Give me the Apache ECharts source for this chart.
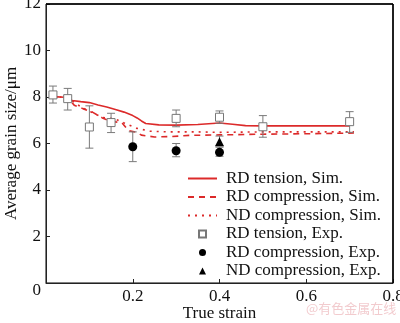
<!DOCTYPE html>
<html>
<head>
<meta charset="utf-8">
<script src="https://cdn.jsdelivr.net/npm/echarts@6/dist/echarts.min.js"></script>
<style>html,body{margin:0;padding:0;background:#fff;}#c{width:400px;height:323px;}</style>
</head>
<body>
<div id="c"></div>
<script>
// ---- data ----
var seriesNames = ['RD tension, Sim.', 'RD compression, Sim.', 'ND compression, Sim.',
                   'RD tension, Exp.', 'RD compression, Exp.', 'ND compression, Exp.'];
var xTicks = [0, 0.2, 0.4, 0.6, 0.8];
var yTicks = [0, 2, 4, 6, 8, 10, 12];

var rdTensionSim = [[0.015,8.02],[0.05,7.98],[0.06,7.85],[0.08,7.8],[0.1,7.76],[0.12,7.66],[0.14,7.57],[0.16,7.46],[0.18,7.35],[0.2,7.2],[0.21,7.1],[0.22,6.97],[0.23,6.86],[0.26,6.8],[0.3,6.79],[0.35,6.82],[0.4,6.88],[0.43,6.83],[0.46,6.77],[0.5,6.76],[0.6,6.76],[0.7,6.76]];
var rdCompSim = [[0.015,8.02],[0.05,7.98],[0.065,7.65],[0.085,7.5],[0.107,7.35],[0.13,7.1],[0.15,6.95],[0.175,6.9],[0.19,6.55],[0.21,6.48],[0.22,6.36],[0.25,6.28],[0.29,6.3],[0.33,6.35],[0.4,6.37],[0.5,6.4],[0.6,6.42],[0.71,6.45]];
var ndCompSim = [[0.015,8.02],[0.05,7.98],[0.07,7.7],[0.09,7.48],[0.11,7.3],[0.13,7.12],[0.16,7.05],[0.19,6.8],[0.21,6.65],[0.24,6.53],[0.28,6.5],[0.35,6.5],[0.4,6.48],[0.5,6.5],[0.6,6.5],[0.71,6.5]];

var rdTensionExpX = [0.016, 0.05, 0.1, 0.15, 0.3, 0.4, 0.5, 0.7];
var rdTensionExpY = [8.09, 7.93, 6.71, 6.9, 7.08, 7.13, 6.72, 6.94];
var rdTensionExpLo = [7.74, 7.44, 5.8, 6.47, 6.72, 6.87, 6.27, 6.48];
var rdTensionExpHi = [8.47, 8.37, 7.62, 7.3, 7.44, 7.4, 7.2, 7.37];

var rdCompExpX = [0.2, 0.3, 0.4];
var rdCompExpY = [5.86, 5.69, 5.62];
var rdCompExpLo = [5.22, 5.43, 5.45];
var rdCompExpHi = [6.5, 6.0, 5.84];

var ndCompExpX = [0.4];
var ndCompExpY = [6.08];
var ndCompExpLo = [5.9];
var ndCompExpHi = [6.32];

// ---- build ----
function pts(xs, ys){ return xs.map(function(x,i){ return [x, ys[i]]; }); }
function errs(xs, lo, hi){ return xs.map(function(x,i){ return [x, lo[i], hi[i]]; }); }

var RED = '#dc2a2a';
var FONT = 'Liberation Serif';
var X_MIN = xTicks[0], X_MAX = xTicks[xTicks.length-1];
var Y_MIN = yTicks[0], Y_MAX = yTicks[yTicks.length-1];

function errRender(params, api){
  var x = api.value(0);
  var p1 = api.coord([x, api.value(2)]);
  var p2 = api.coord([x, api.value(1)]);
  var w = 4;
  var st = {stroke: '#7a7a7a', lineWidth: 1};
  return {type:'group', children:[
    {type:'line', shape:{x1:p1[0], y1:p1[1], x2:p2[0], y2:p2[1]}, style:st},
    {type:'line', shape:{x1:p1[0]-w, y1:p1[1], x2:p1[0]+w, y2:p1[1]}, style:st},
    {type:'line', shape:{x1:p2[0]-w, y1:p2[1], x2:p2[0]+w, y2:p2[1]}, style:st}
  ]};
}

// plot frame (top and right edges) drawn through the axis scales
function frameRender(params, api){
  var tl = api.coord([api.value(0), api.value(3)]);
  var tr = api.coord([api.value(1), api.value(3)]);
  var br = api.coord([api.value(1), api.value(2)]);
  var st = {stroke: '#000', lineWidth: 1.5, fill: null};
  return {type:'group', children:[
    {type:'line', shape:{x1:tl[0], y1:tl[1], x2:tr[0], y2:tr[1]}, style: st},
    {type:'line', shape:{x1:tr[0], y1:tr[1], x2:br[0], y2:br[1]}, style: st}
  ]};
}

var ICON_SQ = 'path://M0,0H8V8H0Z';
var ICON_CI = 'path://M4,0A4,4,0,1,1,4,8A4,4,0,1,1,4,0Z';
var ICON_TR = 'path://M4,0L8,8L0,8Z';

var chart = echarts.init(document.getElementById('c'), null, {renderer:'canvas'});
chart.setOption({
  animation: false,
  backgroundColor: '#fff',
  grid: {left: 46, right: 7, top: 4, bottom: 40, show: true,
         backgroundColor: 'rgba(0,0,0,0)', borderColor: '#000', borderWidth: 1,
         containLabel: false, outerBoundsMode: 'none'},
  xAxis: {
    type: 'value', min: X_MIN, max: X_MAX, interval: 0.2,
    name: 'True strain', nameLocation: 'middle', nameGap: 22, nameMoveOverlap: false,
    nameTextStyle: {fontFamily: FONT, fontSize: 17, color: '#111'},
    axisLine: {onZero: false, lineStyle: {color: '#222', width: 1}},
    axisTick: {inside: true, length: 4, lineStyle: {color: '#222'}},
    axisLabel: {showMinLabel: false, fontFamily: FONT, fontSize: 17, color: '#111', margin: 5,
      formatter: function(v){ return String(Math.round(v*10)/10); }},
    splitLine: {show: false}
  },
  yAxis: {
    type: 'value', min: Y_MIN, max: Y_MAX, interval: 2,
    name: 'Average grain size/μm', nameLocation: 'middle', nameGap: 26, nameMoveOverlap: false,
    nameTextStyle: {fontFamily: FONT, fontSize: 17, color: '#111'},
    axisLine: {onZero: false, lineStyle: {color: '#222', width: 1}},
    axisTick: {inside: true, length: 4, lineStyle: {color: '#222'}},
    axisLabel: {fontFamily: FONT, fontSize: 17, color: '#111', margin: 5,
      formatter: function(v){ return v === 0 ? '{z|0}' : String(v); },
      rich: {z: {fontFamily: FONT, fontSize: 17, color: '#111', padding: [16, 0, 0, 0]}}},
    splitLine: {show: false}
  },
  legend: {
    data: [
      {name: seriesNames[0], itemStyle: {opacity: 0}},
      {name: seriesNames[1], itemStyle: {opacity: 0}},
      {name: seriesNames[2], itemStyle: {opacity: 0}},
      {name: seriesNames[3], icon: ICON_SQ},
      {name: seriesNames[4], icon: ICON_CI},
      {name: seriesNames[5], icon: ICON_TR}
    ],
    orient: 'vertical', left: 187, top: 170, padding: 0,
    itemWidth: 29, itemHeight: 7, itemGap: 1.5, symbolKeepAspect: true,
    textStyle: {fontFamily: FONT, fontSize: 17, color: '#111', lineHeight: 16, padding: [0,0,0,4]}
  },
  graphic: [{type:'text', left: 306, top: 302, silent: true,
    style: {text: '@有色金属在线', fill: 'rgba(232,160,165,0.55)', font: '13px "Noto Sans CJK SC"'}}],
  series: [
    {type: 'custom', renderItem: frameRender, data: [[X_MIN, X_MAX, Y_MIN, Y_MAX]], z: 6, silent: true, clip: false},
    {name: seriesNames[0], type: 'line', data: rdTensionSim, symbol: 'none', z: 3,
      lineStyle: {color: RED, width: 1.6, type: 'solid'}, itemStyle: {color: RED}},
    {name: seriesNames[1], type: 'line', data: rdCompSim, symbol: 'none', z: 3,
      lineStyle: {color: RED, width: 1.6, type: [6, 5]}, itemStyle: {color: RED}},
    {name: seriesNames[2], type: 'line', data: ndCompSim, symbol: 'none', z: 3,
      lineStyle: {color: RED, width: 1.6, type: [2, 5]}, itemStyle: {color: RED}},
    {type: 'custom', renderItem: errRender, data: errs(rdTensionExpX, rdTensionExpLo, rdTensionExpHi), z: 4},
    {type: 'custom', renderItem: errRender, data: errs(rdCompExpX, rdCompExpLo, rdCompExpHi), z: 4},
    {type: 'custom', renderItem: errRender, data: errs(ndCompExpX, ndCompExpLo, ndCompExpHi), z: 4},
    {name: seriesNames[3], type: 'scatter', data: pts(rdTensionExpX, rdTensionExpY), symbol: 'rect', symbolSize: 8, z: 5,
      itemStyle: {color: '#fff', borderColor: '#777', borderWidth: 1, opacity: 1}},
    {name: seriesNames[4], type: 'scatter', data: pts(rdCompExpX, rdCompExpY), symbol: 'circle', symbolSize: 9, z: 5,
      itemStyle: {color: '#000', opacity: 1}},
    {name: seriesNames[5], type: 'scatter', data: pts(ndCompExpX, ndCompExpY), symbol: 'triangle', symbolSize: 9, z: 5,
      itemStyle: {color: '#000', opacity: 1}}
  ]
});
</script>
</body>
</html>
